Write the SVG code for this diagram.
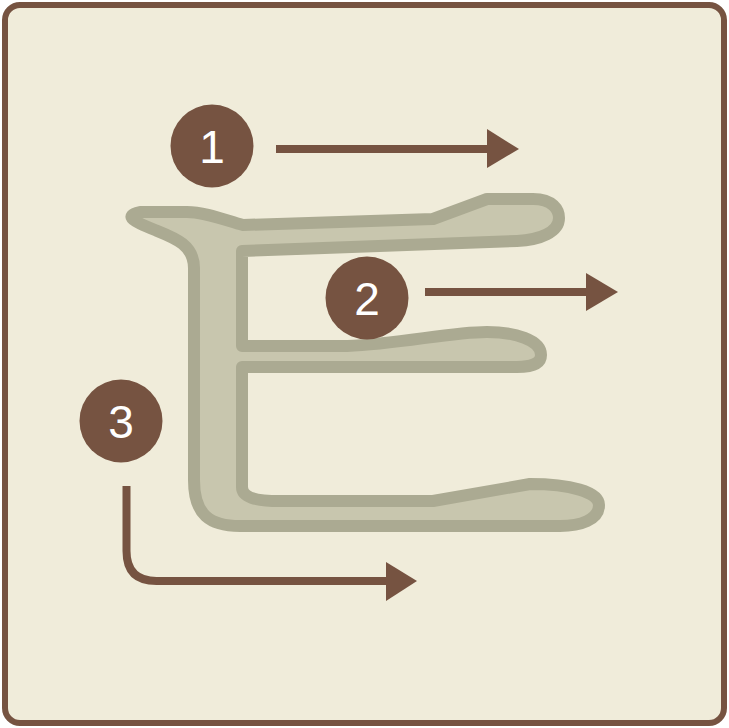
<svg xmlns="http://www.w3.org/2000/svg" width="729" height="728" viewBox="0 0 729 728">
<style>
.badge{fill:#765341}
.num{fill:#ffffff;font-family:"Liberation Sans",Arial,sans-serif;font-size:46px;text-anchor:middle}
.shaft{fill:none;stroke:#765341;stroke-width:8}
.head{fill:#765341}
</style>
<rect x="5" y="5" width="719" height="718" rx="15" fill="#f0ecda" stroke="#765341" stroke-width="6"/>
<g id="glyph">
<path d="M 140,212 L 187,212 C 205,212 225,220 243,225 L 433,219 L 487,199 L 533,199 C 553,199 559,210 559,218 C 559,232 540,240 517,241 L 242,251 L 242,346 L 347,346 C 400,344 450,332 487,332 C 515,332 541,340 541,355 C 541,364 530,367 517,367 L 242,367 L 242,487 C 242,497 255,501 280,501 L 433,501 L 530,484 C 570,484 599,492 599,505 C 599,520 580,526 560,526 L 240,526 C 210,526 194,515 194,480 L 194,268 C 194,245 175,238 155,230 C 135,222 122,216 140,212 Z" fill="#c8c6ae" stroke="#abaa92" stroke-width="12" stroke-linejoin="round"/>
</g>
<g id="connectors">
<line class="shaft" x1="276" y1="149" x2="490" y2="149"/>
<polygon class="head" points="487,129 519,149 487,168"/>
<line class="shaft" x1="425" y1="292" x2="589" y2="292"/>
<polygon class="head" points="586,273 618,292 586,311"/>
<path class="shaft" d="M 126.5,486 L 126.5,551 Q 126.5,581 156.5,581 L 389,581"/>
<polygon class="head" points="386,562 417,581 386,601"/>
</g>
<g id="step1"><circle class="badge" cx="212" cy="146" r="41.5"/><text class="num" x="212" y="163">1</text></g>
<g id="step2"><circle class="badge" cx="367" cy="298" r="41.5"/><text class="num" x="367" y="315">2</text></g>
<g id="step3"><circle class="badge" cx="121" cy="421" r="41.5"/><text class="num" x="121" y="438">3</text></g>
</svg>
